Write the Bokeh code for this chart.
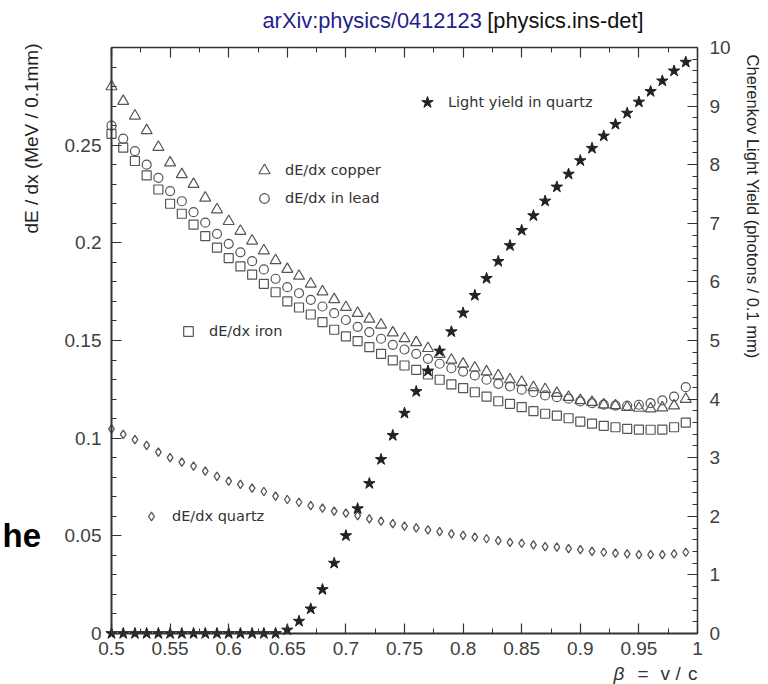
from bokeh.plotting import figure
from bokeh.models import (Range1d, LinearAxis, SingleIntervalTicker, CustomJSTickFormatter,
                          Label, Legend, LegendItem)
from bokeh.embed import file_html
from bokeh.resources import INLINE

# ---------------- data ----------------
beta = [0.50, 0.51, 0.52, 0.53, 0.54, 0.55, 0.56, 0.57, 0.58, 0.59,
        0.60, 0.61, 0.62, 0.63, 0.64, 0.65, 0.66, 0.67, 0.68, 0.69,
        0.70, 0.71, 0.72, 0.73, 0.74, 0.75, 0.76, 0.77, 0.78, 0.79,
        0.80, 0.81, 0.82, 0.83, 0.84, 0.85, 0.86, 0.87, 0.88, 0.89,
        0.90, 0.91, 0.92, 0.93, 0.94, 0.95, 0.96, 0.97, 0.98, 0.99]

dedx_copper = [0.280, 0.2725, 0.265, 0.2575, 0.249, 0.241, 0.235, 0.230, 0.223, 0.217,
               0.211, 0.206, 0.201, 0.196, 0.191, 0.1865, 0.183, 0.179, 0.175, 0.171,
               0.167, 0.164, 0.161, 0.158, 0.154, 0.151, 0.149, 0.146, 0.143, 0.140,
               0.138, 0.136, 0.134, 0.132, 0.130, 0.1287, 0.126, 0.125, 0.123, 0.121,
               0.1193, 0.1184, 0.1171, 0.1167, 0.1159, 0.1154, 0.1151, 0.1156, 0.1166, 0.120]

dedx_lead = [0.260, 0.2533, 0.247, 0.240, 0.2333, 0.2265, 0.2213, 0.2157, 0.2103, 0.2046,
             0.1995, 0.1951, 0.1906, 0.1864, 0.1816, 0.1773, 0.1742, 0.1708, 0.1674, 0.164,
             0.1605, 0.157, 0.1543, 0.1509, 0.1478, 0.1454, 0.1432, 0.1406, 0.1381, 0.1358,
             0.1341, 0.1321, 0.1299, 0.1278, 0.1265, 0.1248, 0.1235, 0.1219, 0.121, 0.1202,
             0.1188, 0.1179, 0.1172, 0.1167, 0.1166, 0.1171, 0.1179, 0.1193, 0.1213, 0.1261]

dedx_iron = [0.2558, 0.2487, 0.2419, 0.2345, 0.2273, 0.2200, 0.2149, 0.2093, 0.2034, 0.1975,
             0.1922, 0.1879, 0.1837, 0.1790, 0.1747, 0.1700, 0.1669, 0.1633, 0.1594, 0.1555,
             0.1521, 0.1497, 0.1466, 0.1432, 0.1398, 0.1372, 0.1350, 0.1326, 0.1299, 0.1275,
             0.1256, 0.1235, 0.1213, 0.1189, 0.1176, 0.1159, 0.1138, 0.1125, 0.1115, 0.1102,
             0.1085, 0.1074, 0.1063, 0.1056, 0.1048, 0.1044, 0.1043, 0.1044, 0.1056, 0.1080]

dedx_quartz = [0.1048, 0.1019, 0.0992, 0.0963, 0.0928, 0.0900, 0.0877, 0.0857, 0.0831, 0.0804,
               0.0780, 0.0763, 0.0744, 0.0727, 0.0703, 0.0686, 0.0672, 0.0655, 0.0642, 0.0626,
               0.0616, 0.0604, 0.0587, 0.0575, 0.0562, 0.0550, 0.0541, 0.0531, 0.0522, 0.0510,
               0.0502, 0.0493, 0.0485, 0.0476, 0.0467, 0.0462, 0.0454, 0.0445, 0.0442, 0.0434,
               0.0429, 0.0421, 0.0416, 0.0411, 0.0408, 0.0404, 0.0404, 0.0404, 0.0408, 0.0416]

light_yield = [0, 0, 0, 0, 0, 0, 0, 0, 0, 0,
               0, 0, 0, 0, 0, 0.06, 0.21, 0.42, 0.75, 1.20,
               1.67, 2.13, 2.56, 2.97, 3.38, 3.76, 4.13, 4.48, 4.82, 5.15,
               5.47, 5.77, 6.06, 6.35, 6.62, 6.88, 7.13, 7.38, 7.62, 7.84,
               8.07, 8.28, 8.49, 8.69, 8.88, 9.07, 9.25, 9.43, 9.60, 9.75]

legend_labels = ["Light yield in quartz", "dE/dx copper", "dE/dx in lead", "dE/dx iron", "dE/dx quartz"]
title_id = "arXiv:physics/0412123"
title_cat = "[physics.ins-det]"
left_label = "dE / dx (MeV / 0.1mm)"
right_label = "Cherenkov Light Yield (photons / 0.1 mm)"

# ---------------- layout (canvas pixels) ----------------
W, H = 768, 684
FL, FR, FT, FB = 111, 697, 47, 633   # where the axes box sits
XMIN, XMAX, YMIN, YMAX = 0.5, 1.0, 0.0, 0.3
LYMIN, LYMAX = 0.0, 10.0


def dx(px):
    return XMIN + (px - FL) / (FR - FL) * (XMAX - XMIN)


def dy(py):
    return YMIN + (FB - py) / (FB - FT) * (YMAX - YMIN)


def dly(py):
    return LYMIN + (FB - py) / (FB - FT) * (LYMAX - LYMIN)


# the plotting frame covers the whole canvas; the axes are pinned at the box edges
p = figure(width=W, height=H, x_range=Range1d(dx(0), dx(W)), y_range=Range1d(dy(H), dy(0)),
           output_backend="svg", toolbar_location=None,
           min_border_left=0, min_border_right=0, min_border_top=0, min_border_bottom=0,
           x_axis_type=None, y_axis_type=None)
p.title.visible = False
p.extra_y_ranges = {"ly": Range1d(dly(H), dly(0))}
p.xgrid.visible = False
p.ygrid.visible = False
p.outline_line_color = None
p.background_fill_color = "white"
p.border_fill_color = "white"

AX = "#333333"
TICK_FONT = "Liberation Sans"
TICK_COLOR = "#404040"
fmt = CustomJSTickFormatter(code="return String(Number(tick.toFixed(3)));")
blank = CustomJSTickFormatter(code="return '';")


def style_axis(ax, width=1.5):
    ax.axis_line_color = AX
    ax.axis_line_width = width
    ax.major_tick_line_color = AX
    ax.minor_tick_line_color = AX
    ax.major_tick_line_width = 1.2
    ax.minor_tick_line_width = 1.0
    ax.major_tick_in = 10
    ax.major_tick_out = 0
    ax.minor_tick_in = 5
    ax.minor_tick_out = 0
    ax.major_label_text_font = TICK_FONT
    ax.major_label_text_font_size = "19px"
    ax.major_label_text_color = TICK_COLOR


xaxis = LinearAxis(ticker=SingleIntervalTicker(interval=0.05, num_minor_ticks=2), formatter=fmt,
                   fixed_location=YMIN, bounds=(XMIN, XMAX))
style_axis(xaxis, 2)
xaxis.major_label_standoff = 8
p.add_layout(xaxis, "below")

yaxis = LinearAxis(ticker=SingleIntervalTicker(interval=0.05, num_minor_ticks=5), formatter=fmt,
                   fixed_location=XMIN, bounds=(YMIN, YMAX))
style_axis(yaxis, 2)
yaxis.major_label_standoff = 10
p.add_layout(yaxis, "left")

top_axis = LinearAxis(ticker=SingleIntervalTicker(interval=0.05, num_minor_ticks=2), formatter=blank,
                      fixed_location=YMAX, bounds=(XMIN, XMAX))
style_axis(top_axis)
p.add_layout(top_axis, "above")

right_axis = LinearAxis(y_range_name="ly", ticker=SingleIntervalTicker(interval=1, num_minor_ticks=5),
                        formatter=fmt, fixed_location=XMAX, bounds=(LYMIN, LYMAX))
style_axis(right_axis)
right_axis.major_label_standoff = 12
p.add_layout(right_axis, "right")

MC = "#555555"
r_cu = p.scatter(beta, dedx_copper, marker="triangle", size=11, fill_color=None,
                 line_color=MC, line_width=1.2)
r_pb = p.scatter(beta, dedx_lead, marker="circle", size=9, fill_color=None,
                 line_color=MC, line_width=1.2)
r_fe = p.scatter(beta, dedx_iron, marker="square", size=9, fill_color=None,
                 line_color=MC, line_width=1.2)
r_q = p.scatter(beta, dedx_quartz, marker="diamond", size=8.5, fill_color=None,
                line_color=MC, line_width=1.3)
r_ly = p.scatter(beta, light_yield, marker="star", size=12, fill_color="#222222",
                 line_color="#222222", line_width=1, y_range_name="ly")

# legend entries, each placed where it sits in the reference
# (renderer, marker centre x, marker centre y, glyph box size)
legend_spots = [(r_ly, 427, 102, 30), (r_cu, 264, 170, 28), (r_pb, 264, 198, 24),
                (r_fe, 188, 331, 24), (r_q, 151, 516, 22)]
for (rend, cx, cy, gs), lab in zip(legend_spots, legend_labels):
    half = gs // 2
    leg = Legend(items=[LegendItem(label=lab, renderers=[rend])],
                 location=(cx - half, H - (cy + half)),
                 border_line_color=None, background_fill_alpha=0,
                 padding=0, margin=0, spacing=0,
                 glyph_width=gs, glyph_height=gs, label_height=gs,
                 label_standoff=21 - half, label_text_font="DejaVu Sans",
                 label_text_font_size="14.5px", label_text_color="#333333")
    p.add_layout(leg, "center")


def add_text(px, py, text, size, color="#222222", align="left", baseline="middle",
             angle=0, style="normal", font="Liberation Sans"):
    p.add_layout(Label(x=dx(px), y=dy(py), text=text, text_font=font, text_font_size=size,
                       text_color=color, text_align=align, text_baseline=baseline,
                       angle=angle, angle_units="deg", text_font_style=style))


# title (two colours)
add_text(262, 20, title_id, "21.8px", color="#1f1f8c")
add_text(643, 20, title_cat, "21.8px", color="#111111", align="right")

# axis titles
add_text(31, 138, left_label, "19px", align="center", angle=90)
add_text(752, 206, right_label, "16.5px", align="center", angle=-90)
add_text(613, 673, "β", "19px", color="#333333", style="italic")
add_text(637, 673, "=", "19px", color="#333333")
add_text(660, 673, "v", "19px", color="#333333")
add_text(675, 673, "/", "19px", color="#333333")
add_text(697, 673, "c", "19px", color="#333333", align="right")

# stray fragment of surrounding page text
add_text(2, 535, "he", "33px", color="#000000", style="bold")

open("out.html", "w").write(file_html(p, INLINE))
